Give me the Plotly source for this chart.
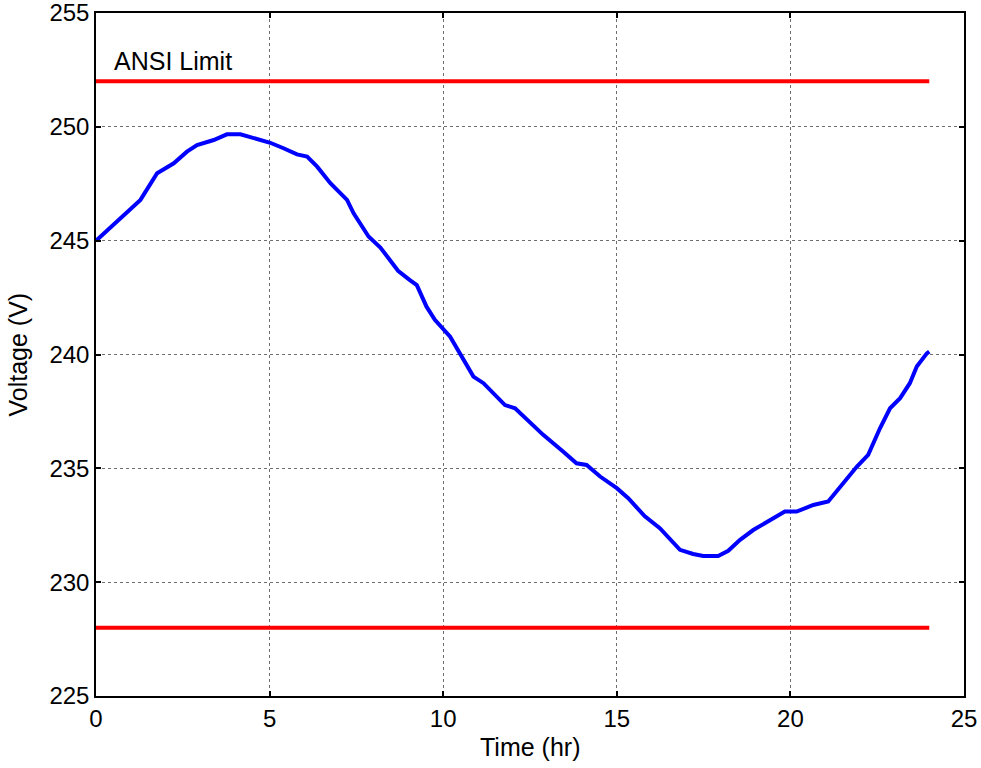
import plotly.graph_objects as go

# Feeder voltage over one day
time_hr = [0.0, 0.6, 1.28, 1.76, 2.24, 2.62, 2.91, 3.39, 3.77, 4.16, 4.54, 5.02,
           5.4, 5.79, 6.08, 6.37, 6.75, 7.23, 7.42, 7.71, 7.85, 8.19, 8.7, 9.04,
           9.24, 9.52, 9.76, 10.2, 10.53, 10.87, 11.16, 11.78, 12.07, 12.88,
           13.46, 13.84, 14.13, 14.52, 15.0, 15.33, 15.8, 16.24, 16.82, 17.2,
           17.49, 17.92, 18.21, 18.55, 18.93, 19.41, 19.84, 20.18, 20.66, 21.09,
           21.43, 21.91, 22.24, 22.58, 22.87, 23.16, 23.44, 23.64, 23.93, 24.0]
voltage_v = [245.0, 245.83, 246.79, 247.96, 248.4, 248.91, 249.2, 249.42, 249.67,
             249.67, 249.52, 249.3, 249.06, 248.79, 248.69, 248.25, 247.52, 246.79,
             246.2, 245.47, 245.18, 244.7, 243.68, 243.27, 243.05, 242.1, 241.52,
             240.78, 239.91, 239.03, 238.74, 237.78, 237.64, 236.47, 235.73, 235.22,
             235.15, 234.64, 234.13, 233.69, 232.9, 232.37, 231.42, 231.24, 231.15,
             231.15, 231.38, 231.86, 232.29, 232.7, 233.1, 233.1, 233.39, 233.54,
             234.2, 235.07, 235.59, 236.76, 237.64, 238.08, 238.74, 239.47, 240.05,
             240.13]

# ANSI range limits (±5% of 240 V)
limit_time = [0, 24]
ansi_upper = 252
ansi_lower = 228

FONT = "Liberation Sans, Arial, sans-serif"

fig = go.Figure()
fig.add_trace(go.Scatter(x=time_hr, y=voltage_v, mode="lines",
                         line=dict(color="#0000ff", width=4), showlegend=False))
for level in (ansi_upper, ansi_lower):
    fig.add_trace(go.Scatter(x=limit_time, y=[level, level], mode="lines",
                             line=dict(color="#ff0000", width=4), showlegend=False))

fig.add_annotation(x=0.46, y=252.87, text="ANSI Limit", showarrow=False,
                   xanchor="left", yanchor="middle",
                   font=dict(family=FONT, size=25, color="black"))

# axis labels, placed by hand relative to the plot area
fig.add_annotation(x=-0.091, y=0.5, xref="paper", yref="paper", text="Voltage (V)",
                   textangle=-90, showarrow=False, xanchor="center", yanchor="middle",
                   font=dict(family=FONT, size=25, color="black"))
fig.add_annotation(x=0.5, y=-0.074, xref="paper", yref="paper", text="Time (hr)",
                   showarrow=False, xanchor="center", yanchor="middle",
                   font=dict(family=FONT, size=25, color="black"))

axis_common = dict(
    showline=True, linecolor="black", linewidth=1.5, mirror="ticks",
    ticks="inside", ticklen=5, tickwidth=1.5, tickcolor="black",
    showgrid=True, gridcolor="#6e6e6e", gridwidth=1, griddash="dot",
    zeroline=False, automargin=False, ticklabeloverflow="allow",
    tickfont=dict(family=FONT, size=24, color="black"),
)

fig.update_xaxes(range=[0, 25], tickvals=[0, 5, 10, 15, 20, 25], **axis_common)
fig.update_yaxes(range=[225, 255], tickvals=[225, 230, 235, 240, 245, 250, 255],
                 **axis_common)

fig.update_layout(
    width=981, height=768,
    margin=dict(l=96, r=17, t=13, b=72),
    paper_bgcolor="white", plot_bgcolor="white",
    font=dict(family=FONT),
)

fig.write_html("out.html")
